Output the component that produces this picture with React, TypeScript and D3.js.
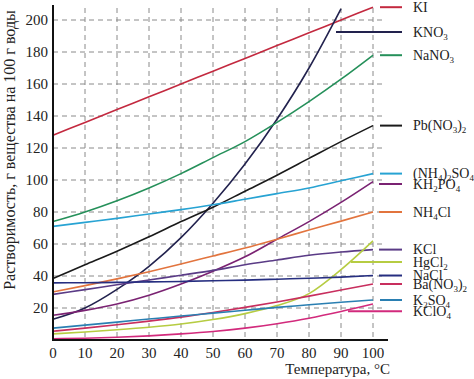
import React from "react";
import * as d3 from "d3";

const temps = [0, 10, 20, 30, 40, 50, 60, 70, 80, 90, 100];

const names = ["KI", "KNO_3", "NaNO_3", "Pb(NO_3)_2", "(NH_4)_2SO_4", "KH_2PO_4", "NH_4Cl", "KCl", "HgCl_2", "NaCl", "Ba(NO_3)_2", "K_2SO_4", "KClO_4"];

const KI = [128, 136, 144, 152, 160, 168, 176, 184, 192, 200, 208];
const KNO3 = [13, 20, 31.6, 46, 64, 85.5, 110, 138, 170, 207];
const NaNO3 = [74, 80, 87, 95, 104, 114, 124, 136, 149, 163, 178];
const PbNO32 = [38.5, 47, 55.5, 64.5, 74, 83, 93, 103, 113.5, 124, 134];
const NH42SO4 = [71, 73.5, 76, 78.8, 81.5, 84.5, 88, 91.5, 95, 99.5, 104];
const KH2PO4 = [15.5, 18.5, 22.5, 28, 35, 43, 52, 63, 74, 86, 99];
const NH4Cl = [30, 34, 38.2, 42.7, 47.5, 52.5, 57.5, 63, 68.7, 74.3, 80];
const KCl = [28.5, 31.5, 34.5, 37.5, 40.5, 43.5, 47, 50, 53, 55, 56.5];
const HgCl2 = [3.8, 5, 6.4, 8, 10, 12.8, 16.5, 21.5, 29, 44, 62];
const NaCl = [35.7, 35.8, 36, 36.3, 36.6, 37, 37.4, 38, 38.6, 39.3, 40.3];
const BaNO32 = [5.5, 7.4, 9.5, 11.8, 14.3, 17.2, 20.4, 23.8, 27.4, 31.2, 35];
const K2SO4 = [7.4, 9.3, 11.2, 13.1, 15, 16.8, 18.6, 20.4, 22, 23.6, 25];
const KClO4 = [0.8, 1.1, 1.7, 2.6, 3.8, 5.3, 7.4, 10.2, 13.6, 17.8, 22.5];

const seriesValues = [KI, KNO3, NaNO3, PbNO32, NH42SO4, KH2PO4, NH4Cl, KCl, HgCl2, NaCl, BaNO32, K2SO4, KClO4];

// legend anchor values (in data units) for each series label
const legendValues = [208, 192.5, 178, 134, 104, 97.5, 80, 56.5, 48.7, 40.3, 35, 25, 18];

const colors = ["#c3293f", "#22224e", "#25905a", "#1a1a1a", "#27a3d3", "#7a2272", "#e2743e", "#5a3b86", "#b6cc42", "#262e80", "#c82e5e", "#2a7fb2", "#d22a7c"];
// x where each legend line starts (px)
const legendStart = [380, 336, 380, 380, 380, 379, 379, 379, 351, 379, 380, 380, 348];

const xTicks = [0, 10, 20, 30, 40, 50, 60, 70, 80, 90, 100];
const yTicks = [20, 40, 60, 80, 100, 120, 140, 160, 180, 200];

const FONT = "'Liberation Serif', 'DejaVu Serif', serif";

function Label({ text, x, y }: { text: string; x: number; y: number }) {
  const parts = text.split(/_(\d)/);
  return (
    <text x={x} y={y} fontFamily={FONT} fontSize={14} fill="#222">
      {parts.map((p, i) =>
        i % 2 === 1 ? (
          <tspan key={i} fontSize={9} dy={3}>{p}</tspan>
        ) : (
          <tspan key={i} dy={i > 0 ? -3 : 0}>{p}</tspan>
        )
      )}
    </text>
  );
}

export default function App() {
  const x = d3.scaleLinear().domain([0, 100]).range([53, 373]);
  const y = d3.scaleLinear().domain([0, 200]).range([340, 20]);
  const line = d3
    .line<[number, number]>()
    .x((d) => x(d[0]))
    .y((d) => y(d[1]))
    .curve(d3.curveMonotoneX);

  return (
    <svg width={474} height={379} style={{ position: "absolute", left: 0, top: 0, background: "#fff" }}>
      {/* grid */}
      {xTicks.slice(1).map((t) => (
        <line key={"gx" + t} x1={x(t)} x2={x(t)} y1={8} y2={340} stroke="#8a8a8a" strokeWidth={1} strokeDasharray="5,4" />
      ))}
      {yTicks.map((t) => (
        <line key={"gy" + t} x1={53} x2={383} y1={y(t)} y2={y(t)} stroke="#8a8a8a" strokeWidth={1} strokeDasharray="5,4" />
      ))}
      {/* curves */}
      {seriesValues.map((vals, i) => (
        <path
          key={"s" + i}
          d={line(vals.map((v, j) => [temps[j], v] as [number, number])) || ""}
          fill="none"
          stroke={colors[i]}
          strokeWidth={1.6}
        />
      ))}
      {/* legend */}
      {names.map((n, i) => (
        <g key={"l" + i}>
          <line x1={legendStart[i]} x2={402} y1={y(legendValues[i])} y2={y(legendValues[i])} stroke={colors[i]} strokeWidth={2} />
          <Label text={n} x={413} y={y(legendValues[i]) + 4.5} />
        </g>
      ))}
      {/* axes */}
      <line x1={53} x2={53} y1={5} y2={341} stroke="#111" strokeWidth={2} />
      <line x1={52} x2={388} y1={340} y2={340} stroke="#111" strokeWidth={2} />
      {xTicks.map((t) => (
        <text key={"xt" + t} x={x(t)} y={358} textAnchor="middle" fontFamily={FONT} fontSize={15} fill="#222">
          {t}
        </text>
      ))}
      {yTicks.map((t) => (
        <text key={"yt" + t} x={48} y={y(t) + 5} textAnchor="end" fontFamily={FONT} fontSize={15} fill="#222">
          {t}
        </text>
      ))}
      <text x={390} y={374} textAnchor="end" fontFamily={FONT} fontSize={15} fill="#222">
        Температура, °C
      </text>
      <text
        transform="translate(15,150) rotate(-90)"
        textAnchor="middle"
        fontFamily={FONT}
        fontSize={16}
        fill="#222"
      >
        Растворимость, г вещества на 100 г воды
      </text>
    </svg>
  );
}
